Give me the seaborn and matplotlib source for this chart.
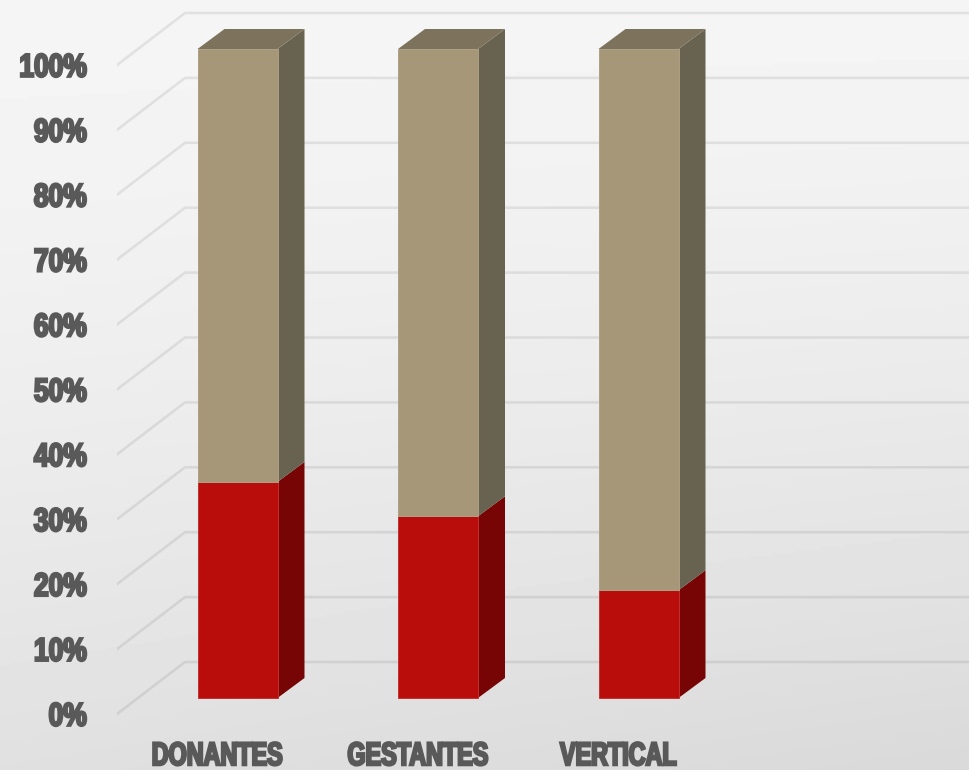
import numpy as np
import pandas as pd
import matplotlib
matplotlib.use("Agg")
import matplotlib.pyplot as plt
import matplotlib.patheffects as pe
from matplotlib.patches import Polygon
from matplotlib.transforms import Affine2D
import seaborn as sns

# Chart values
categories = ["DONANTES", "GESTANTES", "VERTICAL"]
lower_share = [33.3, 28.0, 16.6]
upper_share = [66.7, 72.0, 83.4]
percent_ticks = [0, 10, 20, 30, 40, 50, 60, 70, 80, 90, 100]

W, H = 969, 770
PX_PER_CAT = 200.5
PX_PER_PCT = 6.49
ZERO_PX_Y = 698
FIRST_BAR_PX = 237.5
LEFT_PX = 117
BOTTOM_PX = 730

# Oblique projection offsets for the bar depth and the wall gridlines
bar_dx = 27 / PX_PER_CAT
bar_dy = 20 / PX_PER_PCT
wall_front_dy = -16 / PX_PER_PCT
wall_back_dy = 36 / PX_PER_PCT
wall_back_x = (185 - FIRST_BAR_PX) / PX_PER_CAT
bar_width = 80 / PX_PER_CAT

RED, RED_SIDE, RED_EDGE = "#B90D0B", "#780505", "#C5302D"
TAN, TAN_SIDE, TAN_TOP, TAN_EDGE = "#A69779", "#686350", "#7D735C", "#AE9F84"
INK = "#595959"


class TallHeavy(pe.AbstractPathEffect):
    """Stretches glyphs vertically about their middle and thickens them."""

    def __init__(self, stretch, weight):
        super().__init__()
        self.stretch = stretch
        self.weight = weight

    def draw_path(self, renderer, gc, tpath, affine, rgbFace):
        box = tpath.get_extents()
        mid = (box.y0 + box.y1) / 2
        warp = Affine2D().translate(0, -mid).scale(1, self.stretch).translate(0, mid)
        heavy = renderer.new_gc()
        heavy.copy_properties(gc)
        heavy.set_linewidth(self.weight)
        heavy.set_foreground(INK)
        heavy.set_joinstyle("miter")
        renderer.draw_path(heavy, tpath, warp + affine, rgbFace)
        heavy.restore()


sns.set_theme(style="white")
plt.rcParams["font.family"] = ["Liberation Sans", "DejaVu Sans"]
plt.rcParams["font.weight"] = "bold"

fig = plt.figure(figsize=(W / 100, H / 100), dpi=100)

# Soft grey backdrop, lighter at the top and darker toward the lower right
bg = fig.add_axes([0, 0, 1, 1], zorder=0)
yy, xx = np.mgrid[0:1:256j, 0:1:256j]
shade = 245 - 21 * yy ** 1.5 - 7 * xx * yy
bg.imshow(shade, cmap="gray", vmin=0, vmax=255, aspect="auto",
          extent=(0, 1, 0, 1), origin="upper")
bg.axis("off")

ax = fig.add_axes([LEFT_PX / W, (H - BOTTOM_PX) / H,
                   (W - LEFT_PX) / W, BOTTOM_PX / H], zorder=1)
ax.patch.set_alpha(0)

frame = pd.DataFrame({"category": categories, "lower": lower_share, "upper": upper_share})

# Wall gridlines: a slanted piece on the left wall and a long run along the back
xlim = ((LEFT_PX - FIRST_BAR_PX) / PX_PER_CAT, (W - FIRST_BAR_PX) / PX_PER_CAT)
for v in percent_ticks:
    ax.plot([xlim[0], wall_back_x, xlim[1]],
            [v + wall_front_dy, v + wall_back_dy, v + wall_back_dy],
            color="black", alpha=0.08, lw=1.9, zorder=1, solid_joinstyle="round")

# Front faces
sns.barplot(data=frame, x="category", y="lower", color=RED, saturation=1,
            width=bar_width, ax=ax, zorder=3, linewidth=0.7, edgecolor=RED_EDGE)
sns.barplot(data=frame, x="category", y="upper", bottom=frame["lower"], color=TAN,
            saturation=1, width=bar_width, ax=ax, zorder=3, linewidth=0.7, edgecolor=TAN_EDGE)

# Side and top faces follow the same values as the front faces
for i, (low, up) in enumerate(zip(lower_share, upper_share)):
    right = i + bar_width / 2
    left = i - bar_width / 2
    total = low + up
    ax.add_patch(Polygon([(right, 0), (right + bar_dx, bar_dy),
                          (right + bar_dx, low + bar_dy), (right, low)],
                         closed=True, fc=RED_SIDE, ec="none", zorder=2.5))
    ax.add_patch(Polygon([(right, low), (right + bar_dx, low + bar_dy),
                          (right + bar_dx, total + bar_dy), (right, total)],
                         closed=True, fc=TAN_SIDE, ec="none", zorder=2.5))
    ax.add_patch(Polygon([(left, total), (right, total),
                          (right + bar_dx, total + bar_dy), (left + bar_dx, total + bar_dy)],
                         closed=True, fc=TAN_TOP, ec="none", zorder=2.5))

ax.set_xlim(*xlim)
ax.set_ylim(-(BOTTOM_PX - ZERO_PX_Y) / PX_PER_PCT, ZERO_PX_Y / PX_PER_PCT)

# Axis labels sit on the front edge of the floor and wall
ax.set_xticks([i - 20 / PX_PER_CAT for i in range(len(categories))], categories)
ax.set_yticks([v + wall_front_dy for v in percent_ticks], [f"{v}%" for v in percent_ticks])
ax.tick_params(axis="x", length=0, pad=10, labelsize=16.8, labelcolor=INK)
ax.tick_params(axis="y", length=0, pad=21.8, labelsize=19, labelcolor=INK)
for lab in ax.get_xticklabels():
    lab.set_path_effects([TallHeavy(1.4, 1.7)])
for lab in ax.get_yticklabels():
    lab.set_path_effects([TallHeavy(1.24, 1.7)])
ax.set_xlabel("")
ax.set_ylabel("")
for s in ax.spines.values():
    s.set_visible(False)

fig.savefig("out.png", dpi=100)
